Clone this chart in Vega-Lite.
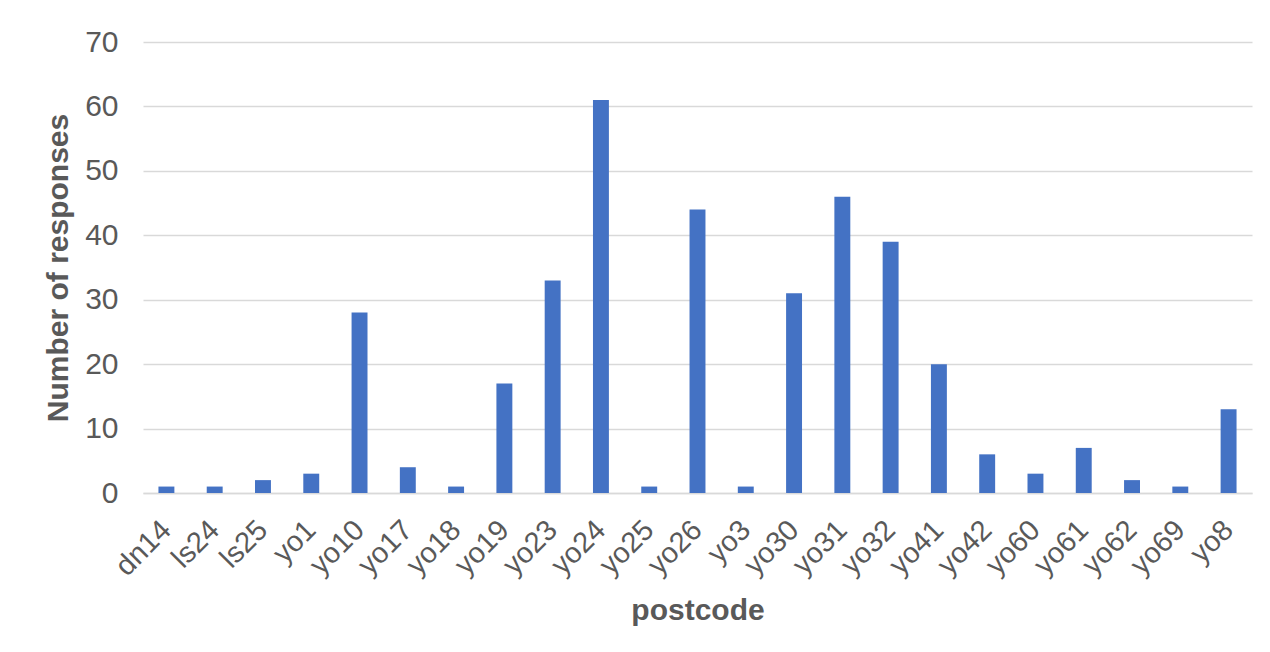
{
  "$schema": "https://vega.github.io/schema/vega-lite/v6.json",
  "autosize": {"type": "none"},
  "width": 1109,
  "height": 451,
  "padding": {"left": 143, "top": 42, "right": 18, "bottom": 159},
  "background": "white",
  "config": {"view": {"stroke": null}, "font": "Liberation Sans"},
  "data": {"values": [
    {"postcode": "dn14", "n": 1},
    {"postcode": "ls24", "n": 1},
    {"postcode": "ls25", "n": 2},
    {"postcode": "yo1", "n": 3},
    {"postcode": "yo10", "n": 28},
    {"postcode": "yo17", "n": 4},
    {"postcode": "yo18", "n": 1},
    {"postcode": "yo19", "n": 17},
    {"postcode": "yo23", "n": 33},
    {"postcode": "yo24", "n": 61},
    {"postcode": "yo25", "n": 1},
    {"postcode": "yo26", "n": 44},
    {"postcode": "yo3", "n": 1},
    {"postcode": "yo30", "n": 31},
    {"postcode": "yo31", "n": 46},
    {"postcode": "yo32", "n": 39},
    {"postcode": "yo41", "n": 20},
    {"postcode": "yo42", "n": 6},
    {"postcode": "yo60", "n": 3},
    {"postcode": "yo61", "n": 7},
    {"postcode": "yo62", "n": 2},
    {"postcode": "yo69", "n": 1},
    {"postcode": "yo8", "n": 13}
  ]},
  "mark": {"type": "bar", "color": "#4472c4"},
  "encoding": {
    "x": {
      "field": "postcode", "type": "nominal", "sort": null,
      "scale": {"paddingInner": 0.67, "paddingOuter": 0.32},
      "axis": {
        "title": "postcode", "titleFontSize": 30, "titleFontWeight": "bold", "titleColor": "#595959",
        "titlePadding": 14,
        "labelAngle": -45, "labelFontSize": 29, "labelColor": "#595959", "labelPadding": 22, "labelOffset": -10,
        "ticks": false, "domainColor": "#d9d9d9", "domainWidth": 1.5
      }
    },
    "y": {
      "field": "n", "type": "quantitative",
      "scale": {"domain": [0, 70]},
      "axis": {
        "title": "Number of responses", "titleFontSize": 30, "titleFontWeight": "bold", "titleColor": "#595959",
        "titlePadding": 11,
        "values": [0, 10, 20, 30, 40, 50, 60, 70],
        "labelFontSize": 30, "labelColor": "#595959", "labelPadding": 25,
        "ticks": false, "domain": false,
        "gridColor": "#d9d9d9", "gridWidth": 1.5
      }
    }
  }
}
